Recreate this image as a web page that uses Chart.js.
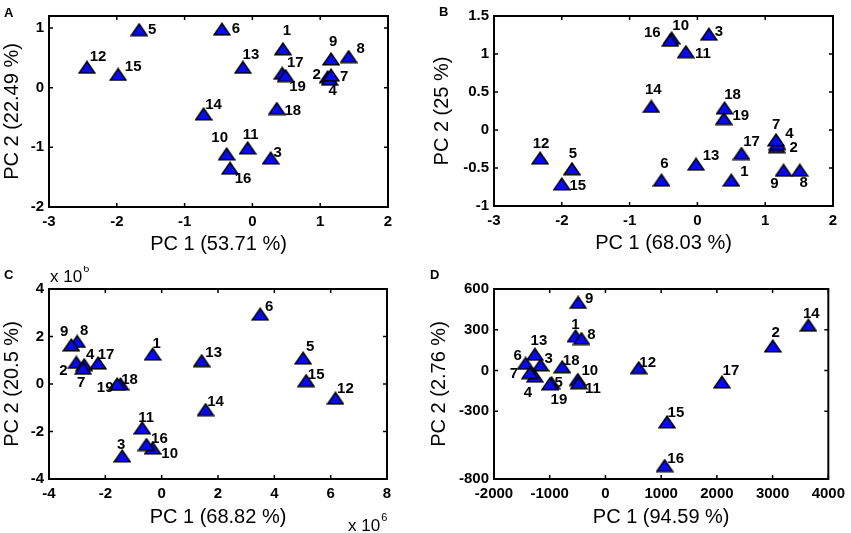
<!DOCTYPE html>
<html>
<head>
<meta charset="utf-8">
<script src="https://cdn.jsdelivr.net/npm/chart.js@4.4.1/dist/chart.umd.min.js"></script>
<style>
  body { margin: 0; background: #fff; width: 851px; height: 533px; position: relative; overflow: hidden; }
  .panel { position: absolute; }
</style>
</head>
<body>
<div class="panel" style="left:0;top:0;width:425px;height:266px"><canvas id="chartA"></canvas></div>
<div class="panel" style="left:425px;top:0;width:426px;height:266px"><canvas id="chartB"></canvas></div>
<div class="panel" style="left:0;top:266px;width:425px;height:267px"><canvas id="chartC"></canvas></div>
<div class="panel" style="left:425px;top:266px;width:426px;height:267px"><canvas id="chartD"></canvas></div>
<script>
// sample numbers, same order in every panel
var sampleIds = ["1", "2", "3", "4", "5", "6", "7", "8", "9", "10",
  "11", "12", "13", "14", "15", "16", "17", "18", "19"];

// A
var pc1A = [0.45, 1.11, 0.27, 1.14, -1.67, -0.45, 1.16, 1.42, 1.16, -0.38, -0.07, -2.44, -0.14, -0.72, -1.98, -0.33, 0.44, 0.36, 0.49];
var pc2A = [0.65, 0.18, -1.18, 0.14, 0.97, 0.98, 0.21, 0.52, 0.48, -1.11, -1.01, 0.34, 0.34, -0.44, 0.22, -1.35, 0.24, -0.35, 0.20];
var xTicksA = [-3, -2, -1, 0, 1, 2];
var yTicksA = [-2, -1, 0, 1];

// B
var pc1B = [0.50, 1.17, 0.17, 1.18, -1.85, -0.53, 1.16, 1.51, 1.27, -0.38, -0.17, -2.32, -0.02, -0.68, -2.00, -0.40, 0.65, 0.40, 0.39];
var pc2B = [-0.66, -0.22, 1.26, -0.18, -0.51, -0.66, -0.13, -0.53, -0.53, 1.21, 1.03, -0.37, -0.45, 0.31, -0.71, 1.18, -0.31, 0.29, 0.15];
var xTicksB = [-3, -2, -1, 0, 1, 2];
var yTicksB = [-1, -0.5, 0, 0.5, 1, 1.5];

// C (both axes in units of 10^6)
var pc1C = [-0.32, -3.03, -1.40, -2.75, 5.02, 3.50, -2.79, -3.00, -3.21, -0.32, -0.69, 6.17, 1.42, 1.56, 5.13, -0.54, -2.26, -1.46, -1.58];
var pc2C = [1.26, 0.91, -3.03, 0.81, 1.09, 2.94, 0.66, 1.79, 1.64, -2.70, -1.85, -0.60, 0.98, -1.08, 0.14, -2.55, 0.88, 0.00, 0.00];
var xTicksC = [-4, -2, 0, 2, 4, 6, 8];
var yTicksC = [-4, -2, 0, 2, 4];

// D
var pc1D = [-537, 3003, -1164, -1266, -967, -1433, -1355, -430, -490, -496, -478, 597, -1266, 3642, 1104, 1063, 2090, -776, -997];
var pc2D = [254, 180, 40, -42, -91, 52, -17, 235, 501, -67, -91, 20, 119, 333, -380, -701, -86, 27, -99];
var xTicksD = [-2000, -1000, 0, 1000, 2000, 3000, 4000];
var yTicksD = [-800, -300, 0, 300, 600];

// where each number sits next to its marker (px)
var labelOffA = [[4,-18],[-11,-2],[7,-5],[3,12],[13,0],[14,0],[13,2],[12,-8],[2,-17],[-7,-16],
  [3,-13],[11,-10],[8,-12],[10,-9],[15,-8],[13,11],[13,-10],[16,2],[12,11]];
var labelOffB = [[13,-8],[17,1],[10,-2],[12,-10],[1,-15],[3,-16],[0,-15],[4,13],[-9,14],[9,-12],
  [17,2],[1,-14],[15,-8],[2,-17],[16,2],[-18,-7],[10,-12],[8,-13],[17,-3]];
var labelOffC = [[4,-10],[-13,8],[-1,-11],[6,-10],[7,-11],[9,-7],[-2,15],[7,-11],[-7,-13],[17,6],
  [4,-10],[10,-9],[12,-8],[10,-8],[10,-6],[13,-6],[8,-8],[9,-4],[-12,4]];
var labelOffD = [[0,-11],[3,-13],[8,-6],[-7,17],[7,0],[-8,-8],[-16,1],[10,-4],[11,-4],[12,-9],
  [14,6],[9,-5],[4,-13],[3,-11],[9,-9],[11,-7],[9,-11],[9,-6],[9,16]];

var FONT = "'Liberation Sans', Arial, Helvetica, sans-serif";

function makeTriangle() {
  var c = document.createElement("canvas");
  c.width = 18;
  c.height = 14;
  var g = c.getContext("2d");
  g.beginPath();
  g.moveTo(9, 1.2);
  g.lineTo(17, 12.8);
  g.lineTo(1, 12.8);
  g.closePath();
  g.fillStyle = "#0a0aee";
  g.fill();
  g.lineWidth = 1.5;
  g.strokeStyle = "#000";
  g.stroke();
  return c;
}
var triangle = makeTriangle();

// box, inward ticks, point numbers, panel letter, exponent notes
var matlabBox = {
  id: "matlabBox",
  afterDatasetsDraw: function (chart, args, opts) {
    var ctx = chart.ctx;
    var a = chart.chartArea;
    var xs = chart.scales.x;
    var ys = chart.scales.y;
    ctx.save();

    ctx.strokeStyle = "#000";
    ctx.lineWidth = 1.5;
    ctx.beginPath();
    xs.ticks.forEach(function (t) {
      var p = xs.getPixelForValue(t.value);
      ctx.moveTo(p, a.bottom); ctx.lineTo(p, a.bottom - 4);
      ctx.moveTo(p, a.top); ctx.lineTo(p, a.top + 4);
    });
    ys.ticks.forEach(function (t) {
      var p = ys.getPixelForValue(t.value);
      ctx.moveTo(a.left, p); ctx.lineTo(a.left + 4, p);
      ctx.moveTo(a.right, p); ctx.lineTo(a.right - 4, p);
    });
    ctx.stroke();
    ctx.lineWidth = 2;
    ctx.strokeRect(a.left, a.top, a.right - a.left, a.bottom - a.top);

    ctx.fillStyle = "#000";
    ctx.font = "bold 15px " + FONT;
    ctx.textAlign = "center";
    ctx.textBaseline = "middle";
    chart.getDatasetMeta(0).data.forEach(function (pt, i) {
      var off = opts.offsets[i];
      ctx.fillText(sampleIds[i], pt.x + off[0], pt.y + off[1]);
    });

    ctx.textAlign = "left";
    ctx.textBaseline = "alphabetic";
    ctx.font = "bold 13px " + FONT;
    ctx.fillText(opts.letter[0], opts.letter[1], opts.letter[2]);

    if (opts.exponent) {
      opts.exponent.forEach(function (e) {
        ctx.font = "17px " + FONT;
        ctx.fillText("x 10", e[0], e[1]);
        var w = ctx.measureText("x 10").width;
        ctx.font = "11px " + FONT;
        ctx.fillText("6", e[0] + w + 1, e[1] - 10);
      });
    }
    ctx.restore();
  }
};

function makePanel(id, xs, ys, xTicks, yTicks, xr, yr, titles, box) {
  var pts = xs.map(function (x, i) { return { x: x, y: ys[i] }; });
  return new Chart(document.getElementById(id), {
    type: "scatter",
    data: {
      datasets: [{
        data: pts,
        pointStyle: triangle,
        pointRadius: 8,
        pointHoverRadius: 8
      }]
    },
    plugins: [matlabBox],
    options: {
      responsive: true,
      maintainAspectRatio: false,
      animation: false,
      events: [],
      layout: { padding: { top: box.top, right: box.right, left: 0, bottom: 0 } },
      plugins: {
        legend: { display: false },
        tooltip: { enabled: false },
        matlabBox: { offsets: box.offsets, letter: box.letter, exponent: box.exponent }
      },
      scales: {
        x: {
          type: "linear",
          min: xr[0],
          max: xr[1],
          afterBuildTicks: function (s) { s.ticks = xTicks.map(function (v) { return { value: v }; }); },
          afterFit: function (s) { s.height = box.xh; },
          grid: { display: false, drawTicks: false },
          border: { display: false },
          ticks: {
            autoSkip: false,
            maxRotation: 0,
            padding: 6,
            color: "#000",
            font: { family: FONT, size: 15, weight: "bold" },
            callback: function (v) { return String(v); }
          },
          title: {
            display: true,
            text: titles[0],
            color: "#000",
            font: { family: FONT, size: 20 },
            padding: { top: 0, bottom: box.xtp }
          }
        },
        y: {
          type: "linear",
          min: yr[0],
          max: yr[1],
          afterBuildTicks: function (s) { s.ticks = yTicks.map(function (v) { return { value: v }; }); },
          afterFit: function (s) { s.width = box.yw; },
          grid: { display: false, drawTicks: false },
          border: { display: false },
          ticks: {
            autoSkip: false,
            padding: 5,
            color: "#000",
            font: { family: FONT, size: 15, weight: "bold" },
            callback: function (v) { return String(v); }
          },
          title: {
            display: true,
            text: titles[1],
            color: "#000",
            font: { family: FONT, size: 20 },
            padding: { top: box.ytp, bottom: 0 }
          }
        }
      }
    }
  });
}

makePanel("chartA", pc1A, pc2A, xTicksA, yTicksA, [-3, 2], [-2, 1.2],
  ["PC 1 (53.71 %)", "PC 2 (22.49 %)"],
  { top: 16, right: 37, yw: 49, xh: 59, xtp: 10, ytp: 0, offsets: labelOffA, letter: ["A", 4, 17] });

makePanel("chartB", pc1B, pc2B, xTicksB, yTicksB, [-3, 2], [-1, 1.5],
  ["PC 1 (68.03 %)", "PC 2 (25 %)"],
  { top: 16, right: 18, yw: 69, xh: 60, xtp: 11, ytp: 5, offsets: labelOffB, letter: ["B", 14, 16] });

makePanel("chartC", pc1C, pc2C, xTicksC, yTicksC, [-4, 8], [-4, 4],
  ["PC 1 (68.82 %)", "PC 2 (20.5 %)"],
  { top: 23, right: 38, yw: 49, xh: 54, xtp: 4, ytp: 0, offsets: labelOffC, letter: ["C", 4, 13],
    exponent: [[50, 16], [348, 265]] });

makePanel("chartD", pc1D, pc2D, xTicksD, yTicksD, [-2000, 4000], [-800, 600],
  ["PC 1 (94.59 %)", "PC 2 (2.76 %)"],
  { top: 23, right: 17, yw: 69, xh: 54, xtp: 4, ytp: 2, offsets: labelOffD, letter: ["D", 5, 13] });
</script>
</body>
</html>
